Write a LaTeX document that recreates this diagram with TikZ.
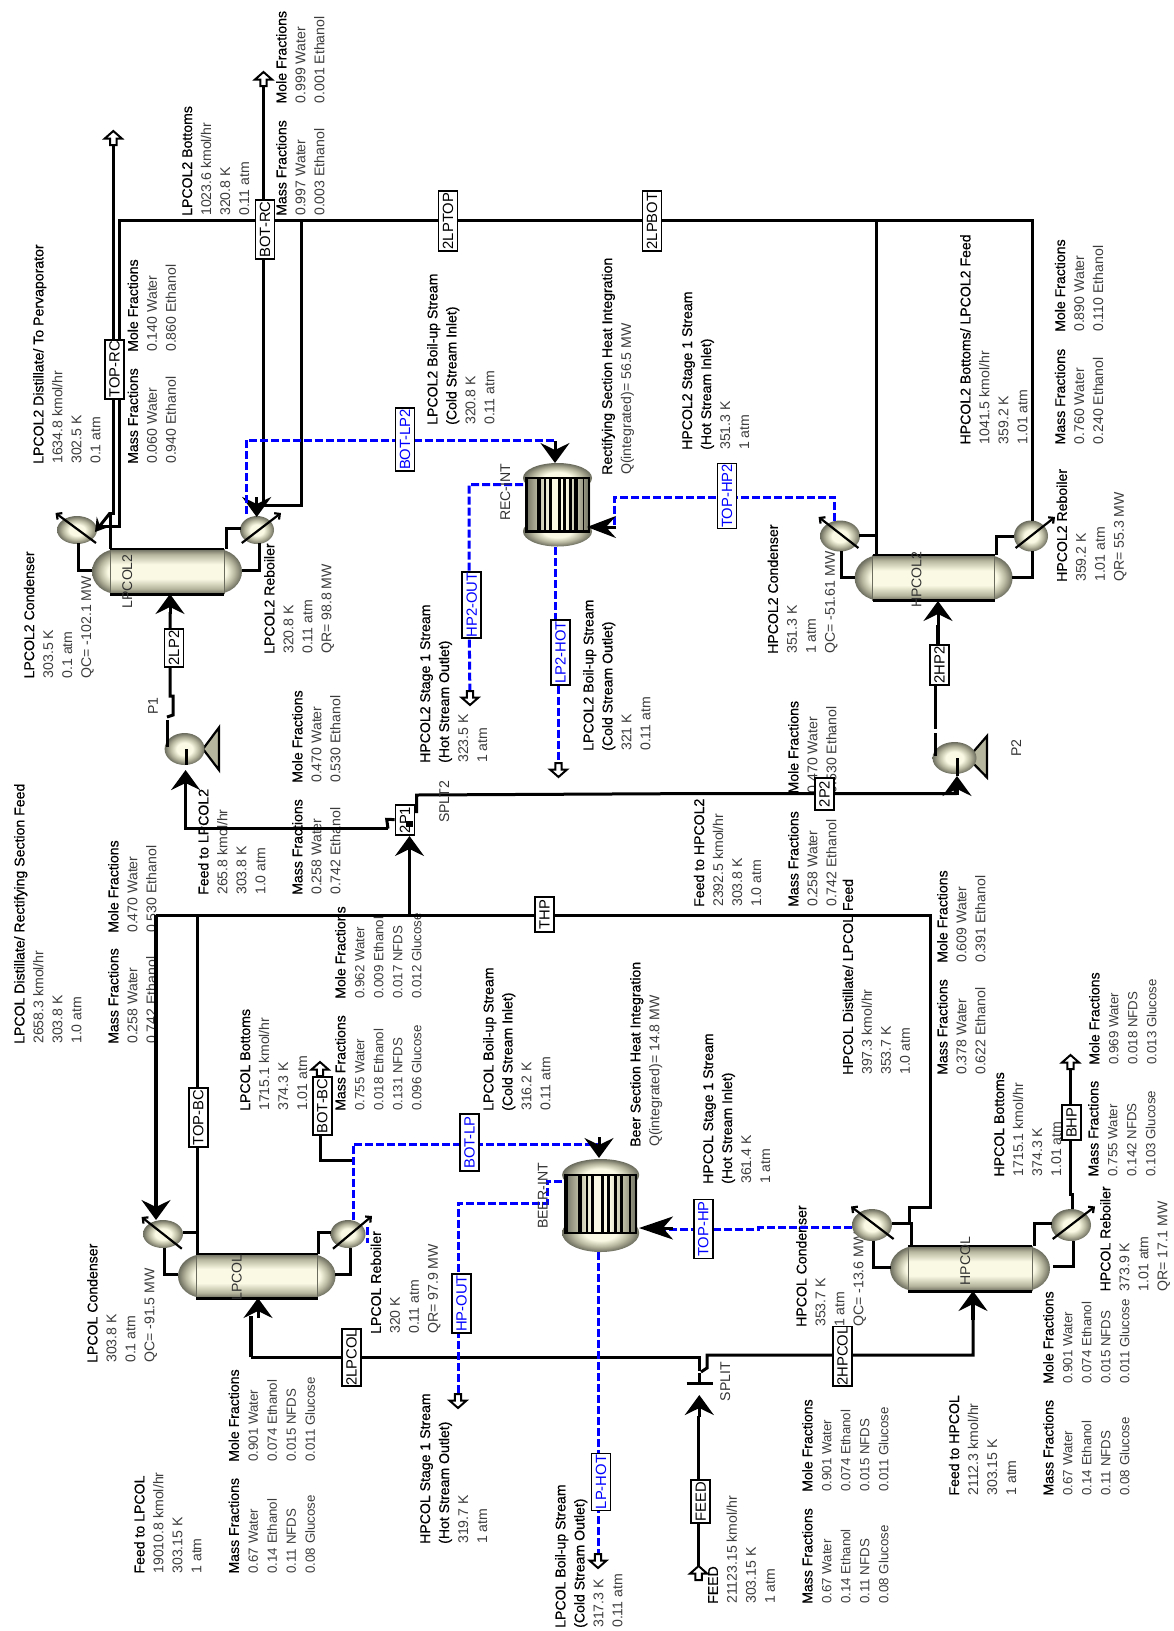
\documentclass[tikz,border=0pt]{standalone}
\usepackage{fontspec}
\setmainfont{Liberation Sans}
\newfontfamily\tbf[FakeBold=0.5]{Liberation Sans}
\usetikzlibrary{arrows.meta,shapes.geometric}
\definecolor{txtg}{RGB}{60,60,60}
\definecolor{bluel}{RGB}{0,0,255}
\definecolor{eqd}{RGB}{108,108,94}
\definecolor{eqm}{RGB}{182,182,158}
\definecolor{eql}{RGB}{250,250,228}
\pgfdeclareverticalshading{vess}{100bp}{color(0bp)=(eqd); color(25bp)=(eqd); color(31bp)=(eqm); color(42bp)=(eql); color(58bp)=(eql); color(69bp)=(eqm); color(75bp)=(eqd); color(100bp)=(eqd)}
\pgfdeclarehorizontalshading{tubes}{100bp}{color(0bp)=(eqd); color(25bp)=(eqd); color(34bp)=(eqm); color(44bp)=(eql); color(56bp)=(eql); color(66bp)=(eqm); color(75bp)=(eqd); color(100bp)=(eqd)}
\pgfdeclareradialshading{vesr}{\pgfpoint{0bp}{0bp}}{color(0bp)=(eql); color(10bp)=(eql); color(18bp)=(eqm); color(25bp)=(eqd); color(50bp)=(eqd)}
\pgfdeclarelayer{under}
\pgfdeclarelayer{mid}
\pgfsetlayers{under,mid,main}
\newcommand{\hd}[1]{{\color{black}\fontsize{14.1}{19}\tbf #1}}
\tikzset{
  lbl/.style={rotate=90,anchor=north west,inner sep=0,align=left,text=txtg,font=\fontsize{14.1}{19}\selectfont},
  lblg/.style={lbl,font=\fontsize{13.3}{19}\selectfont},
  tag/.style={rotate=90,anchor=north west,inner sep=0,text=black!80,font=\fontsize{14.1}{19}\selectfont},
  bx/.style={draw=black,line width=1.8,fill=white,rotate=90,inner sep=0,minimum height=19,font=\fontsize{14.8}{16}\selectfont},
  bxb/.style={bx,text=bluel},
  stream/.style={draw=black,line width=3,line join=miter},
  thick stream/.style={draw=black,line width=3.6,line join=miter},
  hotc/.style={draw=bluel,line width=3,dash pattern=on 8pt off 3pt,line join=miter},
  hd tip/.style={-{Stealth[length=20pt,width=29pt,inset=7pt]}},
  sd tip/.style={-{Stealth[length=13pt,width=16pt,inset=5pt]}},
  hxs/.style={shape=ellipse,inner sep=0,shading=vesr},
  diag/.style={draw=black,line width=2.2,-{Straight Barb[length=4pt,width=8pt]}},
  opena/.pic={\draw[black,fill=white,line width=2,line join=miter] (0,0)--(8.5,7.5)--(3.2,7.5)--(3.2,14)--(-3.2,14)--(-3.2,7.5)--(-8.5,7.5)--cycle;}
}
\newcommand{\vessel}[5]{%
  \pgfmathsetmacro{\vcy}{(#4+#5)/2}\pgfmathsetmacro{\vry}{(#5-#4)/2}
  \pgfmathsetmacro{\vla}{#2+26}\pgfmathsetmacro{\vlb}{#3-26}
  \pgfmathsetmacro{\vsa}{#2+18}\pgfmathsetmacro{\vsb}{#3-18}
  \shade[shading=vesr] (\vla,\vcy) ellipse (26 and \vry);
  \shade[shading=vesr] (\vlb,\vcy) ellipse (26 and \vry);
  \shade[shading=vess] (\vsa,#4) rectangle (\vsb,#5);
  \draw[eqd,line width=.5] (\vsa,#4)--(\vsa,#5) (\vsb,#4)--(\vsb,#5);
  \draw[black,line width=1.8] (\vsa,#4)--(\vsb,#4);
  \draw[black,line width=3] (\vsa,#5)--(\vsb,#5);
  \node[inner sep=0,minimum width=#3-#2,minimum height=#5-#4] (#1) at ({(#2+#3)/2},\vcy) {};
}
% name, x1, x2, ytop, ybottom, tube top, tube bottom
\newcommand{\integ}[7]{%
  \pgfmathsetmacro{\icx}{(#2+#3)/2}\pgfmathsetmacro{\irx}{(#3-#2)/2}
  \pgfmathsetmacro{\ira}{#6-#4}\pgfmathsetmacro{\irb}{#5-#7}
  \pgfmathsetmacro{\iw}{#3-#2-3}\pgfmathsetmacro{\ix}{#2+1.5}
  \shade[shading=vesr] (\icx,#6) ellipse (\irx+.5 and \ira);
  \shade[shading=vesr] (\icx,#7) ellipse (\irx+.5 and \irb);
  \shade[shading=tubes] (\ix,#6) rectangle ({\ix+\iw},#7);
  \foreach \a/\b in {0/.05,.19/.24,.295/.33,.37/.41,.5/.55,.59/.63,.68/.72,.76/.81,.89/.91,.97/1}{
    \fill[black] ({\ix+\a*\iw},#6) rectangle ({\ix+\b*\iw},#7);}
  \draw[black,line width=2.8] (\ix,#6) -- ({\ix+\iw},#6) (\ix,#7) -- ({\ix+\iw},#7);
  \node[inner sep=0,minimum width=#3-#2,minimum height=#5-#4] (#1) at (\icx,{(#4+#5)/2}) {};
}
\begin{document}
\begin{tikzpicture}[x=1pt,y=-1pt]
\useasboundingbox (0,0) rectangle (1174,1631);
\begin{pgfonlayer}{under}
\fill[white] (0,0) rectangle (1174,1631);

% ---------- text blocks ----------
\node[lbl] (t01) at (33,464) {\hd{LPCOL2 Distillate/ To Pervaporator}\\1634.8 kmol/hr\\302.5 K\\0.1 atm};
\node[lbl] (t02) at (127.5,464) {\hd{Mass Fractions}\\0.060 Water\\0.940 Ethanol};
\node[lbl] (t03) at (127.5,352) {\hd{Mole Fractions}\\0.140 Water\\0.860 Ethanol};
\node[lbl] (t04) at (182,216) {\hd{LPCOL2 Bottoms}\\1023.6 kmol/hr\\320.8 K\\0.11 atm};
\node[lbl] (t05) at (276,216) {\hd{Mass Fractions}\\0.997 Water\\0.003 Ethanol};
\node[lbl] (t06) at (276,103.6) {\hd{Mole Fractions}\\0.999 Water\\0.001 Ethanol};
\node[lbl] (t07) at (427,425) {\hd{LPCOL2 Boil-up Stream}\\\hd{(Cold Stream Inlet)}\\320.8 K\\0.11 atm};
\node[lbl] (t08) at (601.6,475) {\hd{Rectifying Section Heat Integration}\\Q(integrated)= 56.5 MW};
\node[lbl] (t09) at (682,450) {\hd{HPCOL2 Stage 1 Stream}\\\hd{(Hot Stream Inlet)}\\351.3 K\\1 atm};
\node[lbl] (t10) at (960,444.6) {\hd{HPCOL2 Bottoms/ LPCOL2 Feed}\\1041.5 kmol/hr\\359.2 K\\1.01 atm};
\node[lbl] (t11) at (1054.6,444.6) {\hd{Mass Fractions}\\0.760 Water\\0.240 Ethanol};
\node[lbl] (t12) at (1054.6,332) {\hd{Mole Fractions}\\0.890 Water\\0.110 Ethanol};
\node[lbl] (t13) at (23.7,678.6) {\hd{LPCOL2 Condenser}\\303.5 K\\0.1 atm\\QC= -102.1 MW};
\node[lbl] (t14) at (264,654) {\hd{LPCOL2 Reboiler}\\320.8 K\\0.11 atm\\QR= 98.8 MW};
\node[lbl] (t15) at (292,783) {\hd{Mole Fractions}\\0.470 Water\\0.530 Ethanol};
\node[lbl] (t16) at (292,895) {\hd{Mass Fractions}\\0.258 Water\\0.742 Ethanol};
\node[lbl] (t17) at (198,895) {\hd{Feed to LPCOL2}\\265.8 kmol/hr\\303.8 K\\1.0 atm};
\node[lbl] (t18) at (420,763) {\hd{HPCOL2 Stage 1 Stream}\\\hd{(Hot Stream Outlet)}\\323.5 K\\1 atm};
\node[lbl] (t19) at (583,751) {\hd{LPCOL2 Boil-up Stream}\\\hd{(Cold Stream Outlet)}\\321 K\\0.11 atm};
\node[lbl] (t20) at (14,1044) {\hd{LPCOL Distillate/ Rectifying Section Feed}\\2658.3 kmol/hr\\303.8 K\\1.0 atm};
\node[lbl] (t21) at (108,1044) {\hd{Mass Fractions}\\0.258 Water\\0.742 Ethanol};
\node[lbl] (t22) at (108,933) {\hd{Mole Fractions}\\0.470 Water\\0.530 Ethanol};
\node[lbl] (t23) at (240,1111) {\hd{LPCOL Bottoms}\\1715.1 kmol/hr\\374.3 K\\1.01 atm};
\node[lblg] (t24) at (335,1111) {\hd{Mass Fractions}\\0.755 Water\\0.018 Ethanol\\0.131 NFDS\\0.096 Glucose};
\node[lblg] (t25) at (335,999) {\hd{Mole Fractions}\\0.962 Water\\0.009 Ethanol\\0.017 NFDS\\0.012 Glucose};
\node[lbl] (t26) at (483,1111) {\hd{LPCOL Boil-up Stream}\\\hd{(Cold Stream Inlet)}\\316.2 K\\0.11 atm};
\node[lbl] (t27) at (693.6,907) {\hd{Feed to HPCOL2}\\2392.5 kmol/hr\\303.8 K\\1.0 atm};
\node[lbl] (t28) at (788,907) {\hd{Mass Fractions}\\0.258 Water\\0.742 Ethanol};
\node[lbl] (t29) at (788,793.6) {\hd{Mole Fractions}\\0.470 Water\\0.530 Ethanol};
\node[lbl] (t30) at (767.5,654) {\hd{HPCOL2 Condenser}\\351.3 K\\1 atm\\QC= -51.61 MW};
\node[lbl] (t31) at (1056.5,582) {\hd{HPCOL2 Reboiler}\\359.2 K\\1.01 atm\\QR= 55.3 MW};
\node[lbl] (t32) at (630,1147) {\hd{Beer Section Heat Integration}\\Q(integrated)= 14.8 MW};
\node[lbl] (t33) at (703,1184) {\hd{HPCOL Stage 1 Stream}\\\hd{(Hot Stream Inlet)}\\361.4 K\\1 atm};
\node[lbl] (t34) at (842.5,1075) {\hd{HPCOL Distillate/ LPCOL Feed}\\397.3 kmol/hr\\353.7 K\\1.0 atm};
\node[lbl] (t35) at (937,1075) {\hd{Mass Fractions}\\0.378 Water\\0.622 Ethanol};
\node[lbl] (t36) at (937,963) {\hd{Mole Fractions}\\0.609 Water\\0.391 Ethanol};
\node[lblg] (t37) at (1089,1065) {\hd{Mole Fractions}\\0.969 Water\\0.018 NFDS\\0.013 Glucose};
\node[lblg] (t38) at (1088,1176.6) {\hd{Mass Fractions}\\0.755 Water\\0.142 NFDS\\0.103 Glucose};
\node[lbl] (t39) at (994,1176.6) {\hd{HPCOL Bottoms}\\1715.1 kmol/hr\\374.3 K\\1.01 atm};
\node[lbl] (t40) at (1100,1291.5) {\hd{HPCOL Reboiler}\\373.9 K\\1.01 atm\\QR= 17.1 MW};
\node[lbl] (t41) at (796,1327) {\hd{HPCOL Condenser}\\353.7 K\\1 atm\\QC= -13.6 MW};
\node[lblg] (t42) at (1043,1384) {\hd{Mole Fractions}\\0.901 Water\\0.074 Ethanol\\0.015 NFDS\\0.011 Glucose};
\node[lblg] (t43) at (1043,1495.7) {\hd{Mass Fractions}\\0.67 Water\\0.14 Ethanol\\0.11 NFDS\\0.08 Glucose};
\node[lbl] (t44) at (948.6,1495.7) {\hd{Feed to HPCOL}\\2112.3 kmol/hr\\303.15 K\\1 atm};
\node[lblg] (t45) at (802,1604) {\hd{Mass Fractions}\\0.67 Water\\0.14 Ethanol\\0.11 NFDS\\0.08 Glucose};
\node[lblg] (t46) at (802,1492) {\hd{Mole Fractions}\\0.901 Water\\0.074 Ethanol\\0.015 NFDS\\0.011 Glucose};
\node[lbl] (t47) at (708,1604) {\hd{FEED}\\21123.15 kmol/hr\\303.15 K\\1 atm};
\node[lbl] (t48) at (555,1628) {\hd{LPCOL Boil-up Stream}\\\hd{(Cold Stream Outlet)}\\317.3 K\\0.11 atm};
\node[lbl] (t49) at (420,1544) {\hd{HPCOL Stage 1 Stream}\\\hd{(Hot Stream Outlet)}\\319.7 K\\1 atm};
\node[lbl] (t50) at (134,1573.7) {\hd{Feed to LPCOL}\\19010.8 kmol/hr\\303.15 K\\1 atm};
\node[lblg] (t51) at (228.5,1573.7) {\hd{Mass Fractions}\\0.67 Water\\0.14 Ethanol\\0.11 NFDS\\0.08 Glucose};
\node[lblg] (t52) at (228.5,1462) {\hd{Mole Fractions}\\0.901 Water\\0.074 Ethanol\\0.015 NFDS\\0.011 Glucose};
\node[lbl] (t53) at (87,1363) {\hd{LPCOL Condenser}\\303.8 K\\0.1 atm\\QC= -91.5 MW};
\node[lbl] (t54) at (370.5,1334) {\hd{LPCOL Reboiler}\\320 K\\0.11 atm\\QR= 97.9 MW};

% ---------- equipment ----------
\vessel{LPCOL2}{92}{242}{549}{594}
\vessel{HPCOL2}{854.6}{1012.6}{555}{600.7}
\vessel{LPCOL}{178}{335.6}{1254}{1298}
\vessel{HPCOL}{890}{1050}{1246}{1291}
\integ{RECINT}{523.5}{591.5}{463}{546.5}{478}{531.5}
\integ{BEERINT}{562.6}{638.7}{1159}{1252}{1175}{1233}

\node[hxs,minimum width=40,minimum height=28] (HXa) at (77,530) {};
\node[hxs,minimum width=34,minimum height=28] (HXb) at (257,530) {};
\node[hxs,minimum width=40,minimum height=31] (HXc) at (840,536) {};
\node[hxs,minimum width=34,minimum height=31] (HXd) at (1031,536) {};
\node[hxs,minimum width=40,minimum height=28] (HXe) at (163,1234) {};
\node[hxs,minimum width=35,minimum height=28] (HXf) at (348,1234) {};
\node[hxs,minimum width=40,minimum height=32] (HXg) at (872,1225) {};
\node[hxs,minimum width=40,minimum height=32] (HXh) at (1071,1225) {};

\draw[black,fill=eqm,line width=2.2] (203,749)--(219,727.5)--(219,770)--cycle;
\draw[black,fill=eqm,line width=2.2] (968,758)--(987,736)--(987,777.5)--cycle;
\node[hxs,minimum width=40,minimum height=32] (P1) at (184.6,749) {};
\node[hxs,minimum width=44,minimum height=32] (P2) at (954.5,758) {};

% ---------- named free ends ----------
\coordinate (dAs) at (96,543); \coordinate (dAe) at (55.5,513);
\coordinate (dBs) at (241.8,543); \coordinate (dBe) at (281,513);
\coordinate (dCs) at (858.4,548); \coordinate (dCe) at (818.6,517);
\coordinate (dDs) at (1015.6,548); \coordinate (dDe) at (1055,517);
\coordinate (dEs) at (181.8,1248.7); \coordinate (dEe) at (141.6,1217);
\coordinate (dFs) at (333,1248.7); \coordinate (dFe) at (372,1216);
\coordinate (dGs) at (893.6,1239); \coordinate (dGe) at (851,1206.5);
\coordinate (dHs) at (1052.7,1239); \coordinate (dHe) at (1095,1206.5);
\draw[diag] (dAs)--(dAe); \draw[diag] (dBs)--(dBe); \draw[diag] (dCs)--(dCe); \draw[diag] (dDs)--(dDe);
\draw[diag] (dEs)--(dEe); \draw[diag] (dFs)--(dFe); \draw[diag] (dGs)--(dGe); \draw[diag] (dHs)--(dHe);
\end{pgfonlayer}

\coordinate (oTOPRC) at (113.3,131);
\coordinate (oBOTRC) at (263.5,72);
\coordinate (oBOTBC) at (320,1062);
\coordinate (oBHP) at (1070.5,1055);
\coordinate (oFEED) at (698.6,1566);
\coordinate (oHP2) at (470,705);
\coordinate (oLP2) at (558.5,777);
\coordinate (oHP) at (458,1408);
\coordinate (oLP) at (598,1568);
% rails
\coordinate (rTop) at (119.5,220);
\coordinate (rTopR) at (1032,220);
\coordinate (rMain) at (156,915);
\coordinate (rMainR) at (930,915);
\coordinate (rLpF) at (699.3,1357.3);
\coordinate (rHpF) at (707,1355);
\coordinate (rSplt) at (416.7,795);
\coordinate (rP2) at (687,793.6);
\coordinate (rBlA) at (555,440);
\coordinate (rBlB) at (614,497);
\coordinate (rBlC) at (599,1144);
\coordinate (rBlD) at (758,1229);
\coordinate (vTR) at (113.3,513);
\coordinate (vBP) at (197,1232);
\coordinate (vLP2) at (170,696);
\coordinate (vHP2) at (938,625);
\coordinate (vHP2b) at (935,729);
\coordinate (vFd) at (698.6,1416);
\coordinate (vBH) at (1070.5,1194);
\coordinate (vHot) at (469,484.6);
\coordinate (vLH) at (555,547);
\coordinate (vBB) at (320,1160);
\coordinate (vHO) at (458,1203);

% ---------- boxes ----------
\node[bx,minimum width=59] (TOPRC) at (114.5,369.5) {TOP-RC};
\node[bx,minimum width=59] (BOTRC) at (265,229.5) {BOT-RC};
\node[bx,minimum width=60] (LPTOP) at (448,221) {2LPTOP};
\node[bx,minimum width=60] (LPBOT) at (652,221) {2LPBOT};
\node[bxb,minimum width=63] (BOTLP2) at (405,439.5) {BOT-LP2};
\node[bxb,minimum width=65] (TOPHP2) at (727,496) {TOP-HP2};
\node[bxb,minimum width=66] (HP2OUT) at (471.7,605) {HP2-OUT};
\node[bxb,minimum width=65] (LP2HOT) at (560.5,652.5) {LP2-HOT};
\node[bx,minimum width=38] (LP2) at (174,648) {2LP2};
\node[bx,minimum width=40] (HP2) at (939.5,665) {2HP2};
\node[bx,minimum width=30] (PA) at (405,820) {2P1};
\node[bx,minimum width=32] (PB) at (824.5,794) {2P2};
\node[bx,minimum width=35] (THP) at (544.5,914.5) {THP};
\node[bx,minimum width=59] (TOPBC) at (198.3,1117.5) {TOP-BC};
\node[bx,minimum width=58] (BOTBC) at (322.3,1106) {BOT-BC};
\node[bxb,minimum width=57] (BOTLP) at (469.5,1142.5) {BOT-LP};
\node[bxb,minimum width=59] (HPOUT) at (461.5,1303.5) {HP-OUT};
\node[bx,minimum width=57] (LPCOLB) at (351.5,1357.5) {2LPCOL};
\node[bxb,minimum width=57] (LPHOT) at (601,1482) {LP-HOT};
\node[bx,minimum width=43] (FEED) at (700.8,1501.7) {FEED};
\node[bx,minimum width=59] (HPCOLB) at (842.5,1356) {2HPCOL};
\node[bxb,minimum width=59] (TOPHP) at (703.3,1229) {TOP-HP};
\node[bx,minimum width=35] (BHP) at (1071.5,1122.7) {BHP};
\fill[black] (405.5,821) rectangle (412.5,827);

\begin{pgfonlayer}{mid}
% ---------- black streams ----------
\draw[stream] (110,549)--(110,513)--(vTR)--(TOPRC -| vTR)--(oTOPRC);
\draw[stream,sd tip] (110,513)--(95,532);
\draw[stream] (97,526)--(119.5,526)--(rTop)--(BOTRC |- rTop)--(LPTOP |- rTop)--(LPBOT |- rTop)--(rTopR)--(1032,521);
\draw[stream] (876.6,220)--(876.6,555);
\draw[stream] (876.6,535)--(859,535);
\draw[stream] (301.6,220)--(301.6,505)--(263.5,505);
\draw[thick stream] (oBOTRC)--(BOTRC -| oBOTRC)--(263.5,505);
\draw[stream,hd tip] (256.7,497)--(256.7,517);
\draw[stream] (256.7,505)--(263.5,505);
\draw[stream] (226,549)--(226,528)--(241,528);
\draw[stream] (259.3,543)--(259.3,570)--(241.7,570);
\draw[stream] (78.3,543)--(78.3,570)--(92,570);
\draw[stream] (996.7,555)--(996.7,536)--(1014,536);
\draw[stream] (1032,551)--(1032,577.5)--(1012,577.5);
\draw[stream] (841.4,551)--(841.4,577)--(855,577);
% pumps and rectifying section feeds
\draw[stream] (167,747)--(167,720);
\draw[stream] (167,717)--(173,715)--(173,696)--(vLP2)--(LP2 -| vLP2)--(170,612);
\draw[stream,hd tip] (170,614)--(170,594);
\draw[stream] (186,749)--(186,765);
\draw[stream,hd tip] (388,828.6)--(185.6,828.6)--(185.6,770);
\draw[stream] (388,828.6)--(386.7,819.3)--(PA);
\draw[stream] (416.7,813)--(rSplt)--(rP2)--(PB |- rP2)--(955,793.6)--(955,785);
\draw[stream,hd tip] (957,795)--(957,776);
\draw[stream] (957,758)--(957,776);
\draw[stream] (409.5,915)--(409.5,846);
\draw[stream,hd tip] (409.5,850)--(409.5,836);
\draw[stream] (935,756)--(935,733);
\draw[stream] (vHP2b)--(HP2 -| vHP2b);
\draw[thick stream] (HP2 -| vHP2)--(vHP2);
\draw[stream,hd tip] (vHP2)--(938,601);
% beer section
\draw[thick stream,hd tip] (rMain)--(156,1220);
\draw[stream] (rMain)--(THP |- rMain)--(rMainR)--(930,1207)--(909.5,1207)--(909.5,1223)--(911,1223)--(911,1246);
\draw[stream] (909.5,1223)--(892,1223);
\draw[stream] (197,915)--(TOPBC -| vBP)--(vBP)--(197,1254);
\draw[stream] (vBP)--(183,1232);
\draw[stream] (164.6,1248)--(164.6,1274)--(178,1274);
\draw[stream] (318.4,1254)--(318.4,1232)--(331,1232);
\draw[stream] (350,1248)--(350,1274)--(335,1274);
\draw[stream] (oBOTBC)--(BOTBC -| oBOTBC)--(vBB)--(353,1160);
\draw[stream] (1072.4,1209)--(1072.4,1194)--(vBH)--(BHP -| vBH)--(oBHP);
\draw[stream] (1034.5,1246)--(1034.5,1223)--(1052,1223);
\draw[stream] (1073,1241)--(1073,1266)--(1052.7,1266);
\draw[stream] (873.6,1241)--(873.6,1267)--(890.6,1267);
% feed
\draw[stream] (oFEED)--(FEED -| oFEED)--(vFd);
\draw[stream,hd tip] (699.3,1417)--(699.3,1395);
\draw[stream] (699.3,1383)--(699.3,1373);
\draw[stream] (686.7,1383)--(713,1383);
\draw[stream] (699.3,1371)--(rLpF)--(LPCOLB |- rLpF)--(250.7,1357.3);
\draw[thick stream] (250.7,1357.3)--(250.7,1316);
\draw[stream,hd tip] (258,1318)--(258,1298);
\draw[stream] (701,1372)--(707,1368)--(rHpF)--(HPCOLB |- rHpF)--(973,1355)--(973,1315);
\draw[thick stream,hd tip] (973,1320)--(973,1291);

% ---------- blue streams ----------
\draw[hotc] (246,514)--(246,440)--(BOTLP2 |- rBlA)--(rBlA)--(555,445);
\draw[stream,hd tip] (555,441)--(555,463);
\draw[hotc] (523,484.6)--(vHot)--(HP2OUT -| vHot)--(oHP2);
\draw[hotc] (vLH)--(LP2HOT -| vLH);
\draw[hotc] (LP2HOT -| oLP2)--(oLP2);
\draw[hotc] (834.5,521)--(834.5,497)--(TOPHP2 |- rBlB)--(rBlB)--(614,527)--(600,527);
\draw[stream,-{Stealth[length=29pt,width=22pt,inset=10pt]}] (616,527)--(587,527);
\draw[hotc] (353,1220)--(353,1144)--(BOTLP |- rBlC)--(rBlC);
\draw[stream,hd tip] (599,1137)--(599,1158);
\draw[hotc] (367.4,1227)--(367.4,1243);
\draw[hotc] (562,1181)--(547,1181)--(547,1203)--(vHO)--(HPOUT -| vHO)--(oHP);
\draw[hotc] (598,1252)--(LPHOT -| oLP)--(oLP);
\draw[hotc] (852,1227.6)--(758,1227.6)--(rBlD)--(TOPHP |- rBlD)--(650,1229);
\draw[stream,-{Stealth[length=34pt,width=23pt,inset=10pt]}] (673,1228)--(639,1228);
\end{pgfonlayer}

% ---------- open stream ends ----------
\pic at (oTOPRC) {opena};
\pic at (oBOTRC) {opena};
\pic at (oBOTBC) {opena};
\pic at (oBHP) {opena};
\pic at (oFEED) {opena};
\pic[rotate=180] at (oHP2) {opena};
\pic[rotate=180] at (oLP2) {opena};
\pic[rotate=180] at (oHP) {opena};
\pic[rotate=180] at (oLP) {opena};

% ---------- equipment tags ----------
\node[tag] (n1) at (122,608.6) {LPCOL2};
\node[tag] (n2) at (911.4,608) {HPCOL2};
\node[tag] (n3) at (231.5,1301) {LPCOL};
\node[tag] (n4) at (960,1285.6) {HPCOL};
\node[tag] (n5) at (500,521) {REC-INT};
\node[tag] (n6) at (537.7,1229) {BEER-INT};
\node[tag] (n7) at (148,715) {P1};
\node[tag] (n8) at (1011,757) {P2};
\node[tag] (n9) at (439,823) {SPLT2};
\node[tag] (n10) at (720,1401.5) {SPLIT};
\end{tikzpicture}
\end{document}
